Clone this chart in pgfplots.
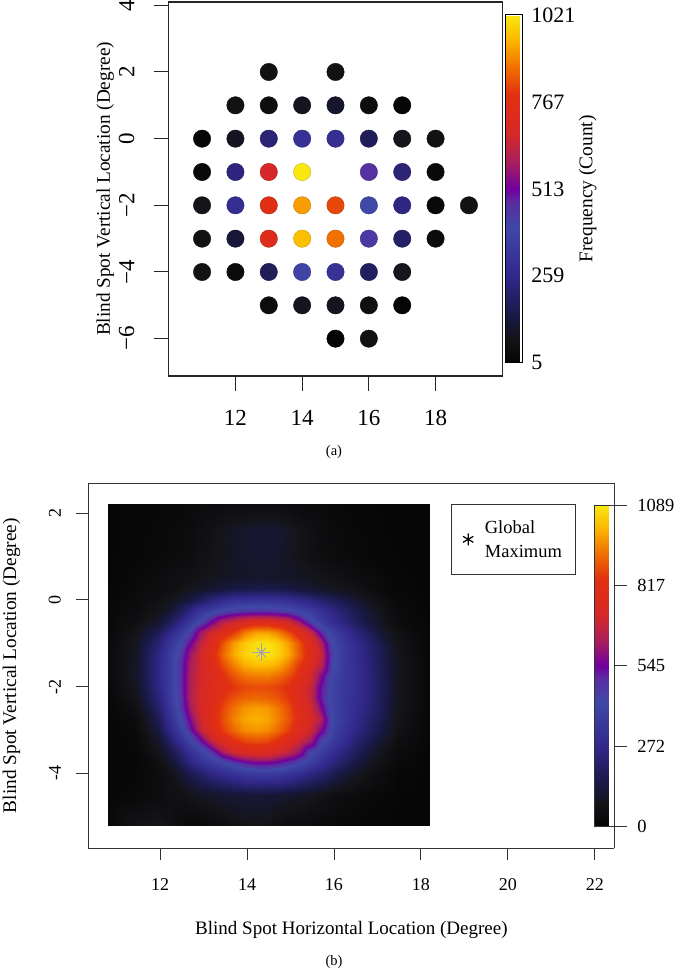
\documentclass[border=0pt]{standalone}
\usepackage{fontspec}
\setmainfont{Liberation Serif}
\usepackage{pgfplots}
\pgfplotsset{compat=1.18}
\pgfplotsset{colormap={spot}{
  rgb255(0pt)=(5,5,5) rgb255(7pt)=(20,20,24) rgb255(13pt)=(24,24,66)
  rgb255(25pt)=(50,40,140) rgb255(39pt)=(64,72,168) rgb255(46pt)=(90,45,160)
  rgb255(50pt)=(112,0,160) rgb255(58pt)=(170,32,90) rgb255(66pt)=(214,40,40)
  rgb255(77pt)=(226,48,16) rgb255(85pt)=(240,112,0) rgb255(93pt)=(252,184,0)
  rgb255(100pt)=(248,232,16)}}
\definecolor{starcol}{RGB}{160,160,185}
\newcommand{\fs}[1]{\fontsize{#1}{#1}\selectfont}
\begin{document}
\begin{tikzpicture}
\path[use as bounding box] (0,0) rectangle (675pt,969pt);

% (a) counts per grid location
\begin{axis}[
  at={(168.7pt,593pt)}, anchor=south west, scale only axis,
  width=333.6pt, height=374pt,
  xmin=10, xmax=20, ymin=-7.12, ymax=4.1,
  axis line style={line width=1.3pt, black!85},
  tick style={line width=1pt, black!85},
  tick align=outside, xtick pos=bottom, ytick pos=left,
  major tick length=14.7pt,
  xtick={12,14,16,18}, xticklabels={12,14,16,18},
  ytick={-6,-4,-2,0,2,4}, yticklabels={−6,−4,−2,0,2,4},
  tick label style={font=\fs{23}},
  xticklabel style={yshift=-16pt},
  yticklabel style={xshift=-16pt, rotate=90, anchor=south},
  ylabel={Blind Spot Vertical Location (Degree)},
  ylabel style={font=\fs{19.25}, at={(axis description cs:-0.19,0.5)}, anchor=center},
  colormap name=spot,
  point meta min=5, point meta max=1021,
  colorbar,
  colorbar style={
    at={(parent axis.north east)}, anchor=north west, xshift=-5.1pt, yshift=-13pt,
    scale only axis, width=17pt, height=347.7pt,
    ytick={5,259,513,767,1021}, yticklabels={5,259,513,767,1021},
    major tick length=0pt, ytick pos=right, yticklabel pos=right,
    tick label style={font=\fs{22}},
    yticklabel style={anchor=west, xshift=5pt},
    axis line style={line width=1pt},
    ylabel={Frequency (Count)},
    ylabel style={font=\fs{19.4}, at={(axis description cs:4.83,0.5)}, anchor=center, rotate=0},
  },
]
\addplot[scatter, only marks, scatter src=explicit, mark=*, mark size=8.7pt,
  mark options={draw=none}] coordinates {
  (13,2) [65] (15,2) [65]
  (12,1) [65] (13,1) [50] (14,1) [90] (15,1) [110] (16,1) [50] (17,1) [8]
  (11,0) [5] (12,0) [90] (13,0) [225] (14,0) [300] (15,0) [290] (16,0) [175] (17,0) [85] (18,0) [65]
  (11,-1) [25] (12,-1) [235] (13,-1) [676] (14,-1) [1021] (16,-1) [462] (17,-1) [225] (18,-1) [30]
  (11,-2) [80] (12,-2) [285] (13,-2) [767] (14,-2) [920] (15,-2) [818] (16,-2) [400] (17,-2) [245] (18,-2) [25] (19,-2) [65]
  (11,-3) [65] (12,-3) [125] (13,-3) [740] (14,-3) [960] (15,-3) [868] (16,-3) [440] (17,-3) [195] (18,-3) [35]
  (11,-4) [65] (12,-4) [35] (13,-4) [175] (14,-4) [380] (15,-4) [310] (16,-4) [185] (17,-4) [85]
  (13,-5) [40] (14,-5) [90] (15,-5) [90] (16,-5) [55] (17,-5) [5]
  (15,-6) [5] (16,-6) [60]
};
\end{axis}

% (b) smoothed map
\begin{axis}[
  at={(88.3pt,121pt)}, anchor=south west, scale only axis,
  width=525.7pt, height=364.7pt,
  view={0}{90}, clip=false,
  xmin=10.35, xmax=22.44, ymin=-5.72, ymax=2.69,
  axis line style={line width=0.9pt, black!80},
  tick style={line width=0.9pt, black!80},
  tick align=outside, xtick pos=bottom, ytick pos=left,
  major tick length=12pt, ztick=\empty,
  xtick={12,14,16,18,20,22}, xticklabels={12,14,16,18,20,22},
  ytick={-4,-2,0,2}, yticklabels={-4,-2,0,2},
  tick label style={font=\fs{18}},
  xticklabel style={yshift=-15pt},
  yticklabel style={xshift=-12pt, rotate=90, anchor=south},
  xlabel={Blind Spot Horizontal Location (Degree)},
  xlabel style={font=\fs{19}, at={(axis description cs:0.5005,-0.226)}, anchor=center},
  ylabel={Blind Spot Vertical Location (Degree)},
  ylabel style={font=\fs{19.3}, at={(axis description cs:-0.146,0.5)}, anchor=center},
  colormap name=spot,
  point meta min=0, point meta max=1089,
  colorbar,
  colorbar style={
    at={(parent axis.north east)}, anchor=north west, xshift=-28.2pt, yshift=-21.7pt,
    scale only axis, width=19.7pt, height=321.7pt,
    ytick={0,272,545,817,1089}, yticklabels={0,272,545,817,1089},
    major tick length=12.7pt, tick align=outside, ytick pos=right, yticklabel pos=right,
    tick style={line width=0.9pt, black!80},
    tick label style={font=\fs{18.5}},
    yticklabel style={anchor=west, xshift=7pt},
    axis line style={line width=0.9pt, black!80},
  },
  legend style={at={(0.69,0.9426)}, anchor=north west, draw=black!80, line width=0.9pt,
    font=\fontsize{18.5}{24}\selectfont, cells={align=left}, inner xsep=11.5pt, inner ysep=13.5pt,
    /tikz/column 1/.style={column sep=9.5pt}},
]
\addplot3[surf, shader=interp, mesh/cols=24, mesh/rows=24, forget plot]
  table[row sep=\\, header=false, x index=0, y index=1, z index=2] {
10.8 2.21 5\\ 11.45 2.21 10\\ 11.95 2.21 15\\ 12.2 2.21 20\\ 12.45 2.21 20\\ 12.7 2.21 25\\ 12.95 2.21 30\\ 13.2 2.21 32\\ 13.45 2.21 35\\ 13.7 2.21 38\\ 13.95 2.21 40\\ 14.2 2.21 40\\ 14.45 2.21 40\\ 14.7 2.21 38\\ 14.95 2.21 35\\ 15.2 2.21 32\\ 15.45 2.21 30\\ 15.7 2.21 25\\ 15.95 2.21 20\\ 16.2 2.21 15\\ 16.45 2.21 12\\ 16.95 2.21 8\\ 17.45 2.21 5\\ 18.2 2.21 3\\
10.8 1.6 5\\ 11.45 1.6 12\\ 11.95 1.6 20\\ 12.2 1.6 25\\ 12.45 1.6 30\\ 12.7 1.6 40\\ 12.95 1.6 55\\ 13.2 1.6 70\\ 13.45 1.6 85\\ 13.7 1.6 100\\ 13.95 1.6 110\\ 14.2 1.6 118\\ 14.45 1.6 120\\ 14.7 1.6 115\\ 14.95 1.6 100\\ 15.2 1.6 80\\ 15.45 1.6 60\\ 15.7 1.6 45\\ 15.95 1.6 32\\ 16.2 1.6 25\\ 16.45 1.6 20\\ 16.95 1.6 10\\ 17.45 1.6 5\\ 18.2 1.6 3\\
10.8 1 5\\ 11.45 1 15\\ 11.95 1 25\\ 12.2 1 30\\ 12.45 1 35\\ 12.7 1 45\\ 12.95 1 60\\ 13.2 1 72\\ 13.45 1 85\\ 13.7 1 97\\ 13.95 1 105\\ 14.2 1 112\\ 14.45 1 112\\ 14.7 1 105\\ 14.95 1 95\\ 15.2 1 75\\ 15.45 1 58\\ 15.7 1 45\\ 15.95 1 35\\ 16.2 1 30\\ 16.45 1 25\\ 16.95 1 15\\ 17.45 1 8\\ 18.2 1 3\\
10.8 0.5 5\\ 11.45 0.5 25\\ 11.95 0.5 40\\ 12.2 0.5 50\\ 12.45 0.5 60\\ 12.7 0.5 70\\ 12.95 0.5 80\\ 13.2 0.5 88\\ 13.45 0.5 95\\ 13.7 0.5 100\\ 13.95 0.5 105\\ 14.2 0.5 108\\ 14.45 0.5 108\\ 14.7 0.5 105\\ 14.95 0.5 100\\ 15.2 0.5 95\\ 15.45 0.5 90\\ 15.7 0.5 80\\ 15.95 0.5 70\\ 16.2 0.5 60\\ 16.45 0.5 50\\ 16.95 0.5 30\\ 17.45 0.5 12\\ 18.2 0.5 3\\
10.8 0.25 8\\ 11.45 0.25 25\\ 11.95 0.25 45\\ 12.2 0.25 58\\ 12.45 0.25 70\\ 12.7 0.25 85\\ 12.95 0.25 100\\ 13.2 0.25 115\\ 13.45 0.25 130\\ 13.7 0.25 145\\ 13.95 0.25 155\\ 14.2 0.25 160\\ 14.45 0.25 160\\ 14.7 0.25 155\\ 14.95 0.25 145\\ 15.2 0.25 130\\ 15.45 0.25 115\\ 15.7 0.25 105\\ 15.95 0.25 92\\ 16.2 0.25 80\\ 16.45 0.25 68\\ 16.95 0.25 40\\ 17.45 0.25 15\\ 18.2 0.25 5\\
10.8 0 12\\ 11.45 0 35\\ 11.95 0 60\\ 12.2 0 80\\ 12.45 0 105\\ 12.7 0 140\\ 12.95 0 190\\ 13.2 0 240\\ 13.45 0 285\\ 13.7 0 310\\ 13.95 0 320\\ 14.2 0 325\\ 14.45 0 325\\ 14.7 0 320\\ 14.95 0 305\\ 15.2 0 280\\ 15.45 0 250\\ 15.7 0 215\\ 15.95 0 185\\ 16.2 0 155\\ 16.45 0 125\\ 16.95 0 70\\ 17.45 0 25\\ 18.2 0 5\\
10.8 -0.25 15\\ 11.45 -0.25 40\\ 11.95 -0.25 80\\ 12.2 -0.25 115\\ 12.45 -0.25 175\\ 12.7 -0.25 260\\ 12.95 -0.25 340\\ 13.2 -0.25 390\\ 13.45 -0.25 440\\ 13.7 -0.25 465\\ 13.95 -0.25 480\\ 14.2 -0.25 485\\ 14.45 -0.25 485\\ 14.7 -0.25 475\\ 14.95 -0.25 455\\ 15.2 -0.25 410\\ 15.45 -0.25 370\\ 15.7 -0.25 320\\ 15.95 -0.25 270\\ 16.2 -0.25 220\\ 16.45 -0.25 170\\ 16.95 -0.25 95\\ 17.45 -0.25 35\\ 18.2 -0.25 8\\
10.8 -0.5 18\\ 11.45 -0.5 55\\ 11.95 -0.5 110\\ 12.2 -0.5 175\\ 12.45 -0.5 260\\ 12.7 -0.5 350\\ 12.95 -0.5 440\\ 13.2 -0.5 560\\ 13.45 -0.5 660\\ 13.7 -0.5 710\\ 13.95 -0.5 760\\ 14.2 -0.5 790\\ 14.45 -0.5 790\\ 14.7 -0.5 770\\ 14.95 -0.5 730\\ 15.2 -0.5 620\\ 15.45 -0.5 470\\ 15.7 -0.5 370\\ 15.95 -0.5 300\\ 16.2 -0.5 245\\ 16.45 -0.5 195\\ 16.95 -0.5 110\\ 17.45 -0.5 40\\ 18.2 -0.5 10\\
10.8 -0.75 22\\ 11.45 -0.75 75\\ 11.95 -0.75 170\\ 12.2 -0.75 260\\ 12.45 -0.75 350\\ 12.7 -0.75 450\\ 12.95 -0.75 620\\ 13.2 -0.75 720\\ 13.45 -0.75 780\\ 13.7 -0.75 850\\ 13.95 -0.75 940\\ 14.2 -0.75 980\\ 14.45 -0.75 980\\ 14.7 -0.75 950\\ 14.95 -0.75 880\\ 15.2 -0.75 790\\ 15.45 -0.75 690\\ 15.7 -0.75 500\\ 15.95 -0.75 385\\ 16.2 -0.75 320\\ 16.45 -0.75 255\\ 16.95 -0.75 150\\ 17.45 -0.75 60\\ 18.2 -0.75 11\\
10.8 -1 25\\ 11.45 -1 90\\ 11.95 -1 220\\ 12.2 -1 330\\ 12.45 -1 420\\ 12.7 -1 545\\ 12.95 -1 680\\ 13.2 -1 770\\ 13.45 -1 890\\ 13.7 -1 980\\ 13.95 -1 1040\\ 14.2 -1 1075\\ 14.45 -1 1082\\ 14.7 -1 1050\\ 14.95 -1 985\\ 15.2 -1 890\\ 15.45 -1 780\\ 15.7 -1 650\\ 15.95 -1 430\\ 16.2 -1 355\\ 16.45 -1 290\\ 16.95 -1 190\\ 17.45 -1 75\\ 18.2 -1 12\\
10.8 -1.25 25\\ 11.45 -1.25 100\\ 11.95 -1.25 250\\ 12.2 -1.25 355\\ 12.45 -1.25 460\\ 12.7 -1.25 610\\ 12.95 -1.25 720\\ 13.2 -1.25 810\\ 13.45 -1.25 920\\ 13.7 -1.25 1000\\ 13.95 -1.25 1055\\ 14.2 -1.25 1085\\ 14.45 -1.25 1088\\ 14.7 -1.25 1060\\ 14.95 -1.25 1000\\ 15.2 -1.25 900\\ 15.45 -1.25 790\\ 15.7 -1.25 690\\ 15.95 -1.25 450\\ 16.2 -1.25 360\\ 16.45 -1.25 300\\ 16.95 -1.25 200\\ 17.45 -1.25 85\\ 18.2 -1.25 12\\
10.8 -1.5 25\\ 11.45 -1.5 105\\ 11.95 -1.5 260\\ 12.2 -1.5 360\\ 12.45 -1.5 480\\ 12.7 -1.5 630\\ 12.95 -1.5 720\\ 13.2 -1.5 790\\ 13.45 -1.5 880\\ 13.7 -1.5 950\\ 13.95 -1.5 1000\\ 14.2 -1.5 1020\\ 14.45 -1.5 1020\\ 14.7 -1.5 1000\\ 14.95 -1.5 940\\ 15.2 -1.5 850\\ 15.45 -1.5 770\\ 15.7 -1.5 660\\ 15.95 -1.5 440\\ 16.2 -1.5 360\\ 16.45 -1.5 310\\ 16.95 -1.5 205\\ 17.45 -1.5 90\\ 18.2 -1.5 12\\
10.8 -1.75 22\\ 11.45 -1.75 105\\ 11.95 -1.75 260\\ 12.2 -1.75 360\\ 12.45 -1.75 480\\ 12.7 -1.75 640\\ 12.95 -1.75 720\\ 13.2 -1.75 780\\ 13.45 -1.75 830\\ 13.7 -1.75 890\\ 13.95 -1.75 930\\ 14.2 -1.75 940\\ 14.45 -1.75 940\\ 14.7 -1.75 920\\ 14.95 -1.75 880\\ 15.2 -1.75 810\\ 15.45 -1.75 730\\ 15.7 -1.75 570\\ 15.95 -1.75 410\\ 16.2 -1.75 355\\ 16.45 -1.75 310\\ 16.95 -1.75 210\\ 17.45 -1.75 90\\ 18.2 -1.75 12\\
10.8 -2 20\\ 11.45 -2 95\\ 11.95 -2 250\\ 12.2 -2 360\\ 12.45 -2 480\\ 12.7 -2 640\\ 12.95 -2 720\\ 13.2 -2 770\\ 13.45 -2 810\\ 13.7 -2 845\\ 13.95 -2 870\\ 14.2 -2 875\\ 14.45 -2 875\\ 14.7 -2 860\\ 14.95 -2 830\\ 15.2 -2 770\\ 15.45 -2 690\\ 15.7 -2 530\\ 15.95 -2 400\\ 16.2 -2 350\\ 16.45 -2 310\\ 16.95 -2 215\\ 17.45 -2 90\\ 18.2 -2 12\\
10.8 -2.25 16\\ 11.45 -2.25 80\\ 11.95 -2.25 230\\ 12.2 -2.25 345\\ 12.45 -2.25 470\\ 12.7 -2.25 640\\ 12.95 -2.25 730\\ 13.2 -2.25 790\\ 13.45 -2.25 840\\ 13.7 -2.25 885\\ 13.95 -2.25 910\\ 14.2 -2.25 915\\ 14.45 -2.25 910\\ 14.7 -2.25 890\\ 14.95 -2.25 850\\ 15.2 -2.25 780\\ 15.45 -2.25 690\\ 15.7 -2.25 520\\ 15.95 -2.25 395\\ 16.2 -2.25 345\\ 16.45 -2.25 305\\ 16.95 -2.25 210\\ 17.45 -2.25 90\\ 18.2 -2.25 12\\
10.8 -2.5 12\\ 11.45 -2.5 60\\ 11.95 -2.5 205\\ 12.2 -2.5 330\\ 12.45 -2.5 460\\ 12.7 -2.5 620\\ 12.95 -2.5 730\\ 13.2 -2.5 800\\ 13.45 -2.5 870\\ 13.7 -2.5 930\\ 13.95 -2.5 970\\ 14.2 -2.5 985\\ 14.45 -2.5 975\\ 14.7 -2.5 940\\ 14.95 -2.5 880\\ 15.2 -2.5 800\\ 15.45 -2.5 720\\ 15.7 -2.5 570\\ 15.95 -2.5 410\\ 16.2 -2.5 350\\ 16.45 -2.5 300\\ 16.95 -2.5 205\\ 17.45 -2.5 85\\ 18.2 -2.5 12\\
10.8 -2.75 10\\ 11.45 -2.75 40\\ 11.95 -2.75 170\\ 12.2 -2.75 300\\ 12.45 -2.75 420\\ 12.7 -2.75 570\\ 12.95 -2.75 710\\ 13.2 -2.75 800\\ 13.45 -2.75 880\\ 13.7 -2.75 950\\ 13.95 -2.75 990\\ 14.2 -2.75 1005\\ 14.45 -2.75 990\\ 14.7 -2.75 950\\ 14.95 -2.75 890\\ 15.2 -2.75 810\\ 15.45 -2.75 740\\ 15.7 -2.75 640\\ 15.95 -2.75 420\\ 16.2 -2.75 350\\ 16.45 -2.75 285\\ 16.95 -2.75 190\\ 17.45 -2.75 80\\ 18.2 -2.75 11\\
10.8 -3 9\\ 11.45 -3 28\\ 11.95 -3 140\\ 12.2 -3 260\\ 12.45 -3 370\\ 12.7 -3 510\\ 12.95 -3 680\\ 13.2 -3 780\\ 13.45 -3 860\\ 13.7 -3 920\\ 13.95 -3 960\\ 14.2 -3 970\\ 14.45 -3 960\\ 14.7 -3 920\\ 14.95 -3 860\\ 15.2 -3 780\\ 15.45 -3 710\\ 15.7 -3 570\\ 15.95 -3 400\\ 16.2 -3 330\\ 16.45 -3 270\\ 16.95 -3 170\\ 17.45 -3 65\\ 18.2 -3 10\\
10.8 -3.25 8\\ 11.45 -3.25 22\\ 11.95 -3.25 110\\ 12.2 -3.25 200\\ 12.45 -3.25 300\\ 12.7 -3.25 400\\ 12.95 -3.25 530\\ 13.2 -3.25 680\\ 13.45 -3.25 770\\ 13.7 -3.25 830\\ 13.95 -3.25 870\\ 14.2 -3.25 880\\ 14.45 -3.25 870\\ 14.7 -3.25 830\\ 14.95 -3.25 770\\ 15.2 -3.25 700\\ 15.45 -3.25 620\\ 15.7 -3.25 450\\ 15.95 -3.25 360\\ 16.2 -3.25 295\\ 16.45 -3.25 235\\ 16.95 -3.25 140\\ 17.45 -3.25 50\\ 18.2 -3.25 9\\
10.8 -3.5 8\\ 11.45 -3.5 18\\ 11.95 -3.5 80\\ 12.2 -3.5 140\\ 12.45 -3.5 220\\ 12.7 -3.5 310\\ 12.95 -3.5 390\\ 13.2 -3.5 490\\ 13.45 -3.5 630\\ 13.7 -3.5 710\\ 13.95 -3.5 750\\ 14.2 -3.5 770\\ 14.45 -3.5 760\\ 14.7 -3.5 720\\ 14.95 -3.5 680\\ 15.2 -3.5 600\\ 15.45 -3.5 450\\ 15.7 -3.5 370\\ 15.95 -3.5 300\\ 16.2 -3.5 245\\ 16.45 -3.5 190\\ 16.95 -3.5 100\\ 17.45 -3.5 32\\ 18.2 -3.5 8\\
10.8 -3.75 8\\ 11.45 -3.75 15\\ 11.95 -3.75 55\\ 12.2 -3.75 100\\ 12.45 -3.75 170\\ 12.7 -3.75 250\\ 12.95 -3.75 315\\ 13.2 -3.75 370\\ 13.45 -3.75 410\\ 13.7 -3.75 465\\ 13.95 -3.75 515\\ 14.2 -3.75 545\\ 14.45 -3.75 545\\ 14.7 -3.75 525\\ 14.95 -3.75 480\\ 15.2 -3.75 430\\ 15.45 -3.75 370\\ 15.7 -3.75 305\\ 15.95 -3.75 245\\ 16.2 -3.75 195\\ 16.45 -3.75 145\\ 16.95 -3.75 75\\ 17.45 -3.75 25\\ 18.2 -3.75 7\\
10.8 -4 8\\ 11.45 -4 14\\ 11.95 -4 42\\ 12.2 -4 70\\ 12.45 -4 115\\ 12.7 -4 170\\ 12.95 -4 215\\ 13.2 -4 260\\ 13.45 -4 295\\ 13.7 -4 330\\ 13.95 -4 355\\ 14.2 -4 370\\ 14.45 -4 370\\ 14.7 -4 360\\ 14.95 -4 335\\ 15.2 -4 300\\ 15.45 -4 260\\ 15.7 -4 220\\ 15.95 -4 175\\ 16.2 -4 135\\ 16.45 -4 100\\ 16.95 -4 50\\ 17.45 -4 15\\ 18.2 -4 5\\
10.8 -4.5 10\\ 11.45 -4.5 22\\ 11.95 -4.5 40\\ 12.2 -4.5 55\\ 12.45 -4.5 65\\ 12.7 -4.5 80\\ 12.95 -4.5 95\\ 13.2 -4.5 105\\ 13.45 -4.5 115\\ 13.7 -4.5 120\\ 13.95 -4.5 125\\ 14.2 -4.5 125\\ 14.45 -4.5 122\\ 14.7 -4.5 118\\ 14.95 -4.5 110\\ 15.2 -4.5 100\\ 15.45 -4.5 85\\ 15.7 -4.5 70\\ 15.95 -4.5 55\\ 16.2 -4.5 45\\ 16.45 -4.5 35\\ 16.95 -4.5 20\\ 17.45 -4.5 8\\ 18.2 -4.5 3\\
10.8 -5.21 15\\ 11.45 -5.21 70\\ 11.95 -5.21 85\\ 12.2 -5.21 70\\ 12.45 -5.21 35\\ 12.7 -5.21 22\\ 12.95 -5.21 22\\ 13.2 -5.21 30\\ 13.45 -5.21 45\\ 13.7 -5.21 60\\ 13.95 -5.21 70\\ 14.2 -5.21 75\\ 14.45 -5.21 70\\ 14.7 -5.21 55\\ 14.95 -5.21 40\\ 15.2 -5.21 32\\ 15.45 -5.21 30\\ 15.7 -5.21 25\\ 15.95 -5.21 20\\ 16.2 -5.21 15\\ 16.45 -5.21 12\\ 16.95 -5.21 8\\ 17.45 -5.21 5\\ 18.2 -5.21 3\\
};
\addplot3[only marks, mark=x, mark size=6.5pt, mark options={line width=1pt, draw=starcol, fill=starcol}, forget plot] coordinates {(14.33,-1.21,1089)};
\addplot3[only marks, mark=+, mark size=9pt, mark options={line width=1pt, draw=starcol, fill=starcol}, forget plot] coordinates {(14.33,-1.21,1089)};
\addlegendimage{only marks, mark=asterisk, mark size=6pt, mark options={line width=1.2pt, black}}
\addlegendentry{Global\\Maximum}
\end{axis}

\node[font=\fs{14.5}] at (334pt,517pt) {(a)};
\node[font=\fs{14.5}] at (334pt,7pt) {(b)};
\end{tikzpicture}
\end{document}
